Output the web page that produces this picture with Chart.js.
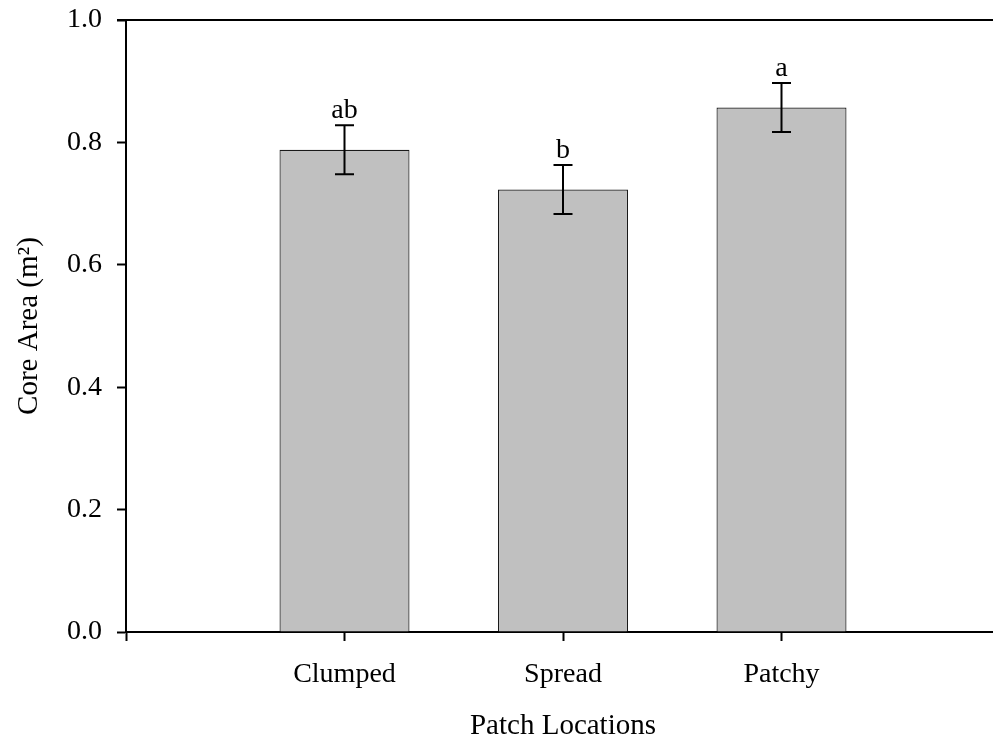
<!DOCTYPE html>
<html>
<head>
<meta charset="utf-8">
<script src="https://cdn.jsdelivr.net/npm/chart.js@4/dist/chart.umd.min.js"></script>
<style>
  html, body { margin: 0; padding: 0; background: #fff; overflow: hidden; }
  #wrap { width: 1000px; height: 744px; }
</style>
</head>
<body>
<div id="wrap"><canvas id="c" width="1000" height="744"></canvas></div>
<script>
// Core area by patch location (mean ± SE) with significance letters
const categories = ['Clumped', 'Spread', 'Patchy'];
const positions = [1, 2, 3];
const meanArea = [0.788, 0.723, 0.857];
const stdErr = [0.040, 0.040, 0.040];
const sigLetters = ['ab', 'b', 'a'];
const yTicks = [0.0, 0.2, 0.4, 0.6, 0.8, 1.0];

const FONT = "'Liberation Serif', 'Times New Roman', serif";
const FS = 28;
const FS_TITLE = 29;

// error bars, letters and the top frame line
const overlay = {
  id: 'overlay',
  afterDatasetsDraw(chart) {
    const ctx = chart.ctx;
    const xs = chart.scales.x, ys = chart.scales.y;
    const area = chart.chartArea;
    ctx.save();
    // top frame line
    ctx.strokeStyle = '#000';
    ctx.lineWidth = 2;
    const yTop = ys.getPixelForValue(1.0);
    ctx.beginPath();
    ctx.moveTo(area.left - 9, yTop);
    ctx.lineTo(area.right, yTop);
    ctx.stroke();
    // error bars
    ctx.lineWidth = 2;
    positions.forEach((p, i) => {
      const x = xs.getPixelForValue(p);
      const yHi = ys.getPixelForValue(meanArea[i] + stdErr[i]);
      const yLo = ys.getPixelForValue(meanArea[i] - stdErr[i]);
      ctx.beginPath();
      ctx.moveTo(x, yHi); ctx.lineTo(x, yLo);
      ctx.moveTo(x - 9.5, yHi); ctx.lineTo(x + 9.5, yHi);
      ctx.moveTo(x - 9.5, yLo); ctx.lineTo(x + 9.5, yLo);
      ctx.stroke();
      ctx.fillStyle = '#000';
      ctx.font = FS + 'px ' + FONT;
      ctx.textAlign = 'center';
      ctx.textBaseline = 'alphabetic';
      ctx.fillText(sigLetters[i], x, yHi - 7);
    });
    ctx.restore();
  }
};

new Chart(document.getElementById('c'), {
  type: 'bar',
  data: {
    datasets: [{
      data: positions.map((p, i) => ({ x: p, y: meanArea[i] })),
      backgroundColor: '#c0c0c0',
      borderColor: '#1a1a1a',
      borderWidth: 1.2,
      barPercentage: 0.595,
      categoryPercentage: 1.0
    }]
  },
  options: {
    responsive: false,
    animation: false,
    layout: { padding: { top: 20, right: 0, left: 0, bottom: 0 } },
    plugins: { legend: { display: false }, tooltip: { enabled: false } },
    scales: {
      x: {
        type: 'linear',
        min: 0,
        max: 4,
        offset: false,
        afterFit(scale) {
          scale.height = 112;
          scale.paddingLeft = 0; scale.paddingRight = 0;
        },
        afterBuildTicks(scale) { scale.ticks = [0, 1, 2, 3, 4].map(v => ({ value: v })); },
        ticks: {
          color: '#000',
          font: { family: FONT, size: FS },
          padding: 17,
          maxRotation: 0,
          autoSkip: false,
          callback: v => (v >= 1 && v <= 3) ? categories[v - 1] : ''
        },
        grid: { display: true, offset: false, drawOnChartArea: false, drawTicks: true, tickLength: 9, tickWidth: 2, color: '#000' },
        border: { display: true, color: '#000', width: 2 },
        title: {
          display: true,
          text: 'Patch Locations',
          color: '#000',
          font: { family: FONT, size: FS_TITLE },
          padding: { top: 0, bottom: 0 }
        }
      },
      y: {
        min: 0,
        max: 1,
        afterFit(scale) {
          scale.width = 126;
          scale.paddingTop = 0; scale.paddingBottom = 0;
        },
        afterBuildTicks(scale) { scale.ticks = yTicks.map(v => ({ value: v })); },
        ticks: {
          color: '#000',
          font: { family: FONT, size: FS },
          padding: 15,
          callback: v => v.toFixed(1)
        },
        grid: { display: true, drawOnChartArea: false, drawTicks: true, tickLength: 9, tickWidth: 2, color: '#000' },
        border: { display: true, color: '#000', width: 2 },
        title: {
          display: true,
          text: 'Core Area (m²)',
          color: '#000',
          font: { family: FONT, size: FS_TITLE },
          padding: { top: 12, bottom: 0 }
        }
      }
    }
  },
  plugins: [overlay]
});
</script>
</body>
</html>
